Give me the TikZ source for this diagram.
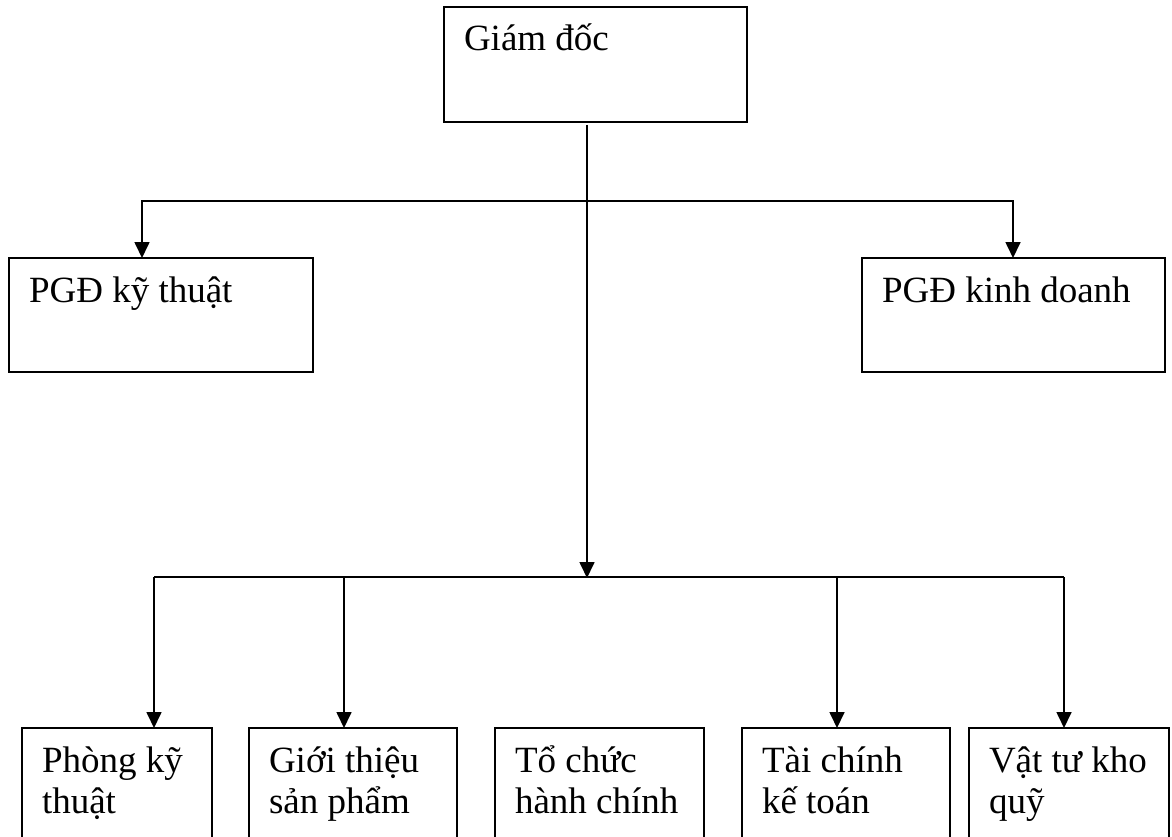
\documentclass[tikz,border=0pt]{standalone}
\usepackage{fontspec}
\setmainfont{Liberation Serif}
\usetikzlibrary{arrows.meta,calc}
\tikzset{
  bx/.style={draw=black, line width=1.7pt, rectangle, inner sep=0pt, outer sep=0pt},
  tx/.style={inner sep=0pt, outer sep=0pt, font=\fontsize{37}{41}\selectfont},
  conn/.style={line width=1.7pt, draw=black},
  arr/.style={conn, -{Triangle[width=15pt,length=16pt]}}
}
\newcommand\obox[6]{%
  \node[bx, minimum width=#4pt, minimum height=#5pt, anchor=north west] (#1) at (#2,#3) {};
  \node[tx, anchor=base west] (#1t) at ($(#1.north west)+(20,-44)$) {\begin{tabular}[t]{@{}l@{}}#6\end{tabular}};}
\begin{document}
\begin{tikzpicture}[x=1pt,y=1pt]
\useasboundingbox (0,0) rectangle (1172,-837);
\clip (0,0) rectangle (1172,-837);
\fill[white] (0,0) rectangle (1172,-837);
\obox{gd}{444}{-7}{303}{115}{Giám đốc}
\obox{pkt}{9}{-258}{304}{114}{PGĐ kỹ thuật}
\obox{pkd}{862}{-258}{303}{114}{PGĐ kinh doanh}
\obox{ba}{22}{-728}{190}{114}{Phòng kỹ\\thuật}
\obox{bb}{249}{-728}{208}{114}{Giới thiệu\\sản phẩm}
\obox{bc}{495}{-728}{209}{114}{Tổ chức\\hành chính}
\obox{bd}{742}{-728}{208}{114}{Tài chính\\kế toán}
\obox{be}{969}{-728}{200}{114}{Vật tư kho\\quỹ}
\coordinate (top) at (587,-125);
\coordinate (hubA) at (587,-201);
\coordinate (hubB) at (587,-578);
\coordinate (lend) at (154,-577);
\coordinate (rend) at (1064,-577);
\coordinate (mb) at (344,-577);
\coordinate (md) at (837,-577);
% central trunk
\draw[arr] (top) -- (hubB);
% upper branch
\draw[arr] (hubA) -| ([xshift=-19pt]pkt.north);
\draw[arr] (hubA) -| ([xshift=-0.5pt]pkd.north);
% lower branch
\draw[conn] (lend) -- (rend);
\draw[arr] (lend) -- (lend |- ba.north);
\draw[arr] (mb) -- (mb |- bb.north);
\draw[arr] (md) -- (md |- bd.north);
\draw[arr] (rend) -- (rend |- be.north);
\end{tikzpicture}
\end{document}
